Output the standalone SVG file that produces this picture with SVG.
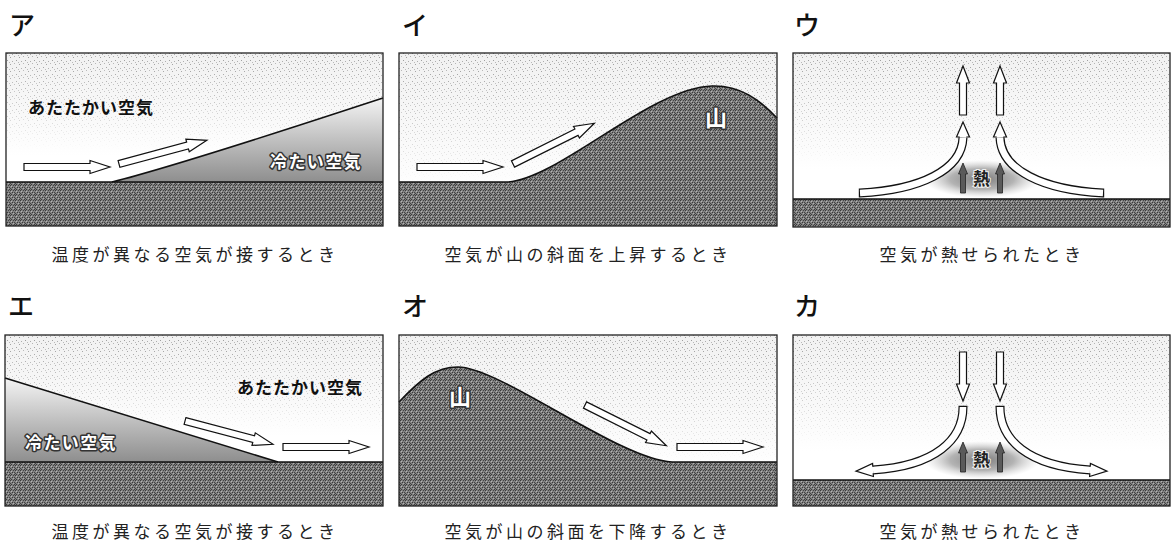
<svg xmlns="http://www.w3.org/2000/svg" xmlns:xlink="http://www.w3.org/1999/xlink" width="1174" height="541" viewBox="0 0 1174 541">
  <style>
    .box { fill: none; stroke: #222; stroke-width: 1.3; }
    .edge { fill: none; stroke: #111; stroke-width: 1.6; stroke-linejoin: round; }
    .soil { fill: url(#grain); }
    .sky { fill: url(#skyTone); }
    .stip { fill: url(#dots); mask: url(#fadeDown); }
    .arr { fill: #fff; stroke: #111; stroke-width: 1.2; stroke-linejoin: miter; }
    .heat { fill: #5a5a5a; stroke: #222; stroke-width: 0.8; }
    .lbl { font-family: "Noto Sans CJK JP", sans-serif; font-size: 26px; font-weight: 500; fill: #111; }
    .cap { font-family: "Liberation Serif", "Noto Sans CJK JP", serif; font-size: 17px; letter-spacing: 3.5px; text-anchor: middle; fill: #222; }
    .inner { font-family: "Noto Sans CJK JP", sans-serif; font-size: 17px; font-weight: 700; fill: #111; }
    .rev { fill: #fff; stroke: #333; stroke-width: 3; paint-order: stroke; stroke-linejoin: round; }
    .mt { font-family: "Noto Sans CJK JP", sans-serif; font-size: 22px; font-weight: 700; }
    .netsu { font-family: "Noto Sans CJK JP", sans-serif; font-size: 17px; font-weight: 700; fill: #222; stroke: #eee; stroke-width: 2; paint-order: stroke; }
  </style>
  <defs>
    <!-- dithered grey for ground and mountains -->
    <pattern id="grain" width="5" height="5" patternUnits="userSpaceOnUse">
      <rect width="5" height="5" fill="#828282"/>
      <rect x="0" y="0" width="1" height="1" fill="#3a3a3a"/>
      <rect x="3" y="0" width="1" height="1" fill="#444"/>
      <rect x="1" y="1" width="1" height="1" fill="#b5b5b5"/>
      <rect x="2" y="2" width="1" height="1" fill="#3a3a3a"/>
      <rect x="4" y="2" width="1" height="1" fill="#444"/>
      <rect x="0" y="3" width="1" height="1" fill="#444"/>
      <rect x="3" y="3" width="1" height="1" fill="#b0b0b0"/>
      <rect x="1" y="4" width="1" height="1" fill="#3a3a3a"/>
      <rect x="4" y="4" width="1" height="1" fill="#3e3e3e"/>
    </pattern>
    <!-- sparse stipple for the air -->
    <pattern id="dots" width="9" height="7" patternUnits="userSpaceOnUse">
      <rect x="1" y="1" width="1" height="1" fill="#9a9a9a"/>
      <rect x="5" y="0" width="1" height="1" fill="#b0b0b0"/>
      <rect x="7" y="4" width="1" height="1" fill="#9a9a9a"/>
      <rect x="3" y="5" width="1" height="1" fill="#a8a8a8"/>
      <rect x="0" y="6" width="1" height="1" fill="#b4b4b4"/>
    </pattern>
    <linearGradient id="fadeGrad" x1="0" y1="0" x2="0" y2="1">
      <stop offset="0" stop-color="#fff"/>
      <stop offset="0.45" stop-color="#777"/>
      <stop offset="0.75" stop-color="#000"/>
    </linearGradient>
    <mask id="fadeDown" maskContentUnits="objectBoundingBox">
      <rect width="1" height="1" fill="url(#fadeGrad)"/>
    </mask>
    <linearGradient id="skyTone" x1="0" y1="0" x2="0" y2="1">
      <stop offset="0" stop-color="#f1f1f1"/>
      <stop offset="0.5" stop-color="#f9f9f9"/>
      <stop offset="0.8" stop-color="#fff"/>
    </linearGradient>
    <linearGradient id="coldA" gradientUnits="userSpaceOnUse" x1="0" y1="98" x2="0" y2="182">
      <stop offset="0" stop-color="#f4f4f4"/>
      <stop offset="0.5" stop-color="#c0c0c0"/>
      <stop offset="1" stop-color="#8e8e8e"/>
    </linearGradient>
    <linearGradient id="coldE" gradientUnits="userSpaceOnUse" x1="0" y1="378" x2="0" y2="462">
      <stop offset="0" stop-color="#f4f4f4"/>
      <stop offset="0.5" stop-color="#c0c0c0"/>
      <stop offset="1" stop-color="#8e8e8e"/>
    </linearGradient>
    <radialGradient id="warm" cx="0.5" cy="0.5" r="0.5">
      <stop offset="0" stop-color="#7a7a7a"/>
      <stop offset="0.55" stop-color="#a0a0a0" stop-opacity="0.8"/>
      <stop offset="1" stop-color="#c8c8c8" stop-opacity="0"/>
    </radialGradient>

    <!-- hollow block arrows -->
    <path id="arS" class="arr" d="M0,-3.5 H66 V-6.5 L86,0 L66,6.5 V3.5 H0 Z"/>
    <path id="arL" class="arr" d="M0,-3.5 H71 V-6.5 L91,0 L71,6.5 V3.5 H0 Z"/>
    <path id="arUp" class="arr" d="M-3.5,0 V-32 H-6.5 L0,-49 L6.5,-32 H3.5 V0 Z"/>
    <path id="arHeat" class="heat" d="M-2.5,0 V-19 H-4.5 L0,-30 L4.5,-19 H2.5 V0 Z"/>

    <!-- rising curved stream -->
    <g id="curveUp">
      <path d="M858.8,193 H860 C920,190 962,170 963,137.5" fill="none" stroke="#111" stroke-width="9"/>
      <path d="M860,193 C920,190 962,170 963,137.5" fill="none" stroke="#fff" stroke-width="6.6"/>
      <path d="M959.7,137 H956.5 L963,122 L969.5,137 H966.3" class="arr"/>
    </g>
    <!-- spreading curved stream -->
    <g id="curveDown">
      <path d="M963,405.8 V407 C963,440 935,466 873,470" fill="none" stroke="#111" stroke-width="9"/>
      <path d="M963,407 C963,440 935,466 873,470" fill="none" stroke="#fff" stroke-width="6.6"/>
      <path d="M872.8,466.7 L872.6,463.5 L856,471.1 L873.4,476.5 L873.2,473.3" class="arr"/>
    </g>
  </defs>

  <rect width="1174" height="541" fill="#fff"/>

  <!-- ア : warm air meets cold air -->
  <g id="panel-a">
    <text class="lbl" x="9" y="35">ア</text>
    <rect class="sky" x="6" y="53" width="377" height="129"/>
    <rect class="stip" x="6" y="53" width="377" height="129"/>
    <path d="M112,182 C180,165 300,125 383,98 V182 Z" fill="url(#coldA)"/>
    <path class="edge" d="M112,182 C180,165 300,125 383,98"/>
    <rect class="soil" x="6" y="182" width="377" height="44"/>
    <line class="edge" x1="6" y1="182" x2="383" y2="182"/>
    <rect class="box" x="6" y="53" width="377" height="173"/>
    <text class="inner" x="28" y="114" letter-spacing="1">あたたかい空気</text>
    <text class="inner rev" x="270" y="168" letter-spacing="1.4">冷たい空気</text>
    <g class="flows">
      <use href="#arS" transform="translate(24,167)"/>
      <use href="#arL" transform="translate(119,164) rotate(-15.1)"/>
    </g>
    <text class="cap" x="195" y="261">温度が異なる空気が接するとき</text>
  </g>

  <!-- イ : air climbing the mountain -->
  <g id="panel-i">
    <text class="lbl" x="402" y="35">イ</text>
    <rect class="sky" x="399" y="53" width="378" height="173"/>
    <rect class="stip" x="399" y="53" width="378" height="173"/>
    <path class="soil" d="M399,182 L508,182 C560,178 650,88 712,86 C740,85 760,100 777,118 V226 H399 Z"/>
    <path class="edge" d="M399,182 L508,182 C560,178 650,88 712,86 C740,85 760,100 777,118"/>
    <rect class="box" x="399" y="53" width="378" height="173"/>
    <text class="mt rev" x="705" y="126">山</text>
    <g class="flows">
      <use href="#arS" transform="translate(417,167)"/>
      <use href="#arL" transform="translate(513,164) rotate(-26.6)"/>
    </g>
    <text class="cap" x="588" y="261">空気が山の斜面を上昇するとき</text>
  </g>

  <!-- ウ : heated air rising -->
  <g id="panel-u">
    <text class="lbl" x="794" y="35">ウ</text>
    <rect class="sky" x="793" y="53" width="377" height="146"/>
    <rect class="stip" x="793" y="53" width="377" height="146"/>
    <ellipse cx="982" cy="179" rx="58" ry="19" fill="url(#warm)"/>
    <rect class="soil" x="793" y="199" width="377" height="28"/>
    <line class="edge" x1="793" y1="199" x2="1170" y2="199"/>
    <rect class="box" x="793" y="53" width="377" height="174"/>
    <g class="flows">
      <use href="#arUp" transform="translate(963,115)"/>
      <use href="#arUp" transform="translate(1000,115)"/>
      <use href="#curveUp"/>
      <use href="#curveUp" transform="translate(1963,0) scale(-1,1)"/>
      <use href="#arHeat" transform="translate(963,193)"/>
      <use href="#arHeat" transform="translate(1000,193)"/>
    </g>
    <text class="netsu" x="973" y="185">熱</text>
    <text class="cap" x="982" y="261">空気が熱せられたとき</text>
  </g>

  <!-- エ : cold air pushing under warm air -->
  <g id="panel-e">
    <text class="lbl" x="8" y="316">エ</text>
    <rect class="sky" x="5" y="335" width="378" height="127"/>
    <rect class="stip" x="5" y="335" width="378" height="127"/>
    <path d="M5,378 L278,462 H5 Z" fill="url(#coldE)"/>
    <path class="edge" d="M5,378 L278,462"/>
    <rect class="soil" x="5" y="462" width="378" height="44"/>
    <line class="edge" x1="5" y1="462" x2="383" y2="462"/>
    <rect class="box" x="5" y="335" width="378" height="171"/>
    <text class="inner" x="237" y="394" letter-spacing="1">あたたかい空気</text>
    <text class="inner rev" x="25" y="449" letter-spacing="1.4">冷たい空気</text>
    <g class="flows">
      <use href="#arL" transform="translate(185,421) rotate(14.8)"/>
      <use href="#arS" transform="translate(283,447)"/>
    </g>
    <text class="cap" x="195" y="538">温度が異なる空気が接するとき</text>
  </g>

  <!-- オ : air descending the mountain -->
  <g id="panel-o">
    <text class="lbl" x="402" y="316">オ</text>
    <rect class="sky" x="399" y="335" width="378" height="171"/>
    <rect class="stip" x="399" y="335" width="378" height="171"/>
    <path class="soil" d="M399,402 C420,380 435,367 458,367 C500,367 620,460 672,462 H777 V506 H399 Z"/>
    <path class="edge" d="M399,402 C420,380 435,367 458,367 C500,367 620,460 672,462 H777"/>
    <rect class="box" x="399" y="335" width="378" height="171"/>
    <text class="mt rev" x="449" y="405">山</text>
    <g class="flows">
      <use href="#arL" transform="translate(585,405) rotate(26.6)"/>
      <use href="#arS" transform="translate(677,447)"/>
    </g>
    <text class="cap" x="588" y="538">空気が山の斜面を下降するとき</text>
  </g>

  <!-- カ : air sinking and spreading -->
  <g id="panel-ka">
    <text class="lbl" x="794" y="316">カ</text>
    <rect class="sky" x="793" y="335" width="377" height="145"/>
    <rect class="stip" x="793" y="335" width="377" height="145"/>
    <ellipse cx="982" cy="460" rx="58" ry="19" fill="url(#warm)"/>
    <rect class="soil" x="793" y="480" width="377" height="26"/>
    <line class="edge" x1="793" y1="480" x2="1170" y2="480"/>
    <rect class="box" x="793" y="335" width="377" height="171"/>
    <g class="flows">
      <use href="#arUp" transform="translate(963,352) scale(1,-1)"/>
      <use href="#arUp" transform="translate(1000,352) scale(1,-1)"/>
      <use href="#curveDown"/>
      <use href="#curveDown" transform="translate(1963,0) scale(-1,1)"/>
      <use href="#arHeat" transform="translate(963,472)"/>
      <use href="#arHeat" transform="translate(1000,472)"/>
    </g>
    <text class="netsu" x="973" y="466">熱</text>
    <text class="cap" x="982" y="538">空気が熱せられたとき</text>
  </g>
</svg>
